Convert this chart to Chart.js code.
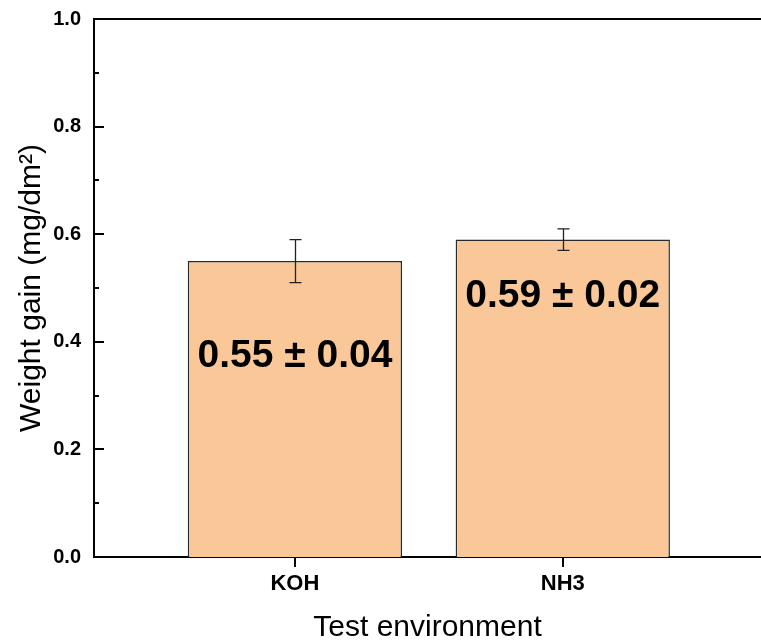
<!DOCTYPE html>
<html>
<head>
<meta charset="utf-8">
<script src="https://cdn.jsdelivr.net/npm/chart.js@4"></script>
<style>
  body { margin: 0; background: #fff; }
  #wrap { width: 761px; height: 641px; }
</style>
</head>
<body>
<div id="wrap"><canvas id="gainChart"></canvas></div>
<script>
const environments = ['KOH', 'NH3'];
const weightGain = [0.55, 0.59];
const gainError = [0.04, 0.02];
const gainLabels = ['0.55 \u00b1 0.04', '0.59 \u00b1 0.02'];

const FONT = "'Liberation Sans', Arial, sans-serif";
// where the value text sits, in y units
const labelAt = [0.373, 0.484];

const decorations = {
  id: 'decorations',
  afterDatasetsDraw(chart) {
    const { ctx, chartArea: a, scales: { x, y } } = chart;
    ctx.save();

    // error bars
    ctx.strokeStyle = '#222';
    ctx.lineWidth = 1.3;
    weightGain.forEach((v, i) => {
      const px = Math.round(x.getPixelForValue(i + 1)) + 0.5;
      const top = y.getPixelForValue(v + gainError[i]);
      const bot = y.getPixelForValue(v - gainError[i]);
      ctx.beginPath();
      ctx.moveTo(px, top); ctx.lineTo(px, bot);
      ctx.moveTo(px - 6, top); ctx.lineTo(px + 6, top);
      ctx.moveTo(px - 6, bot); ctx.lineTo(px + 6, bot);
      ctx.stroke();
    });

    // value text inside the bars
    ctx.fillStyle = '#000';
    ctx.font = 'bold 39px ' + FONT;
    ctx.textAlign = 'center';
    ctx.textBaseline = 'middle';
    gainLabels.forEach((t, i) => {
      ctx.fillText(t, x.getPixelForValue(i + 1), y.getPixelForValue(labelAt[i]));
    });

    // top frame line
    ctx.strokeStyle = '#000';
    ctx.lineWidth = 2;
    ctx.beginPath();
    ctx.moveTo(a.left - 1, a.top);
    ctx.lineTo(a.right, a.top);
    ctx.stroke();

    // y ticks point inward, minor ones shorter
    y.ticks.forEach(t => {
      const py = Math.round(y.getPixelForValue(t.value));
      const len = Math.round(t.value * 10) % 2 === 0 ? 10 : 5;
      ctx.beginPath();
      ctx.moveTo(a.left, py);
      ctx.lineTo(a.left + len, py);
      ctx.stroke();
    });

    // x ticks point outward
    x.ticks.forEach(t => {
      const px = Math.round(x.getPixelForValue(t.value));
      ctx.beginPath();
      ctx.moveTo(px, a.bottom);
      ctx.lineTo(px, a.bottom + 10);
      ctx.stroke();
    });
    ctx.restore();
  }
};

new Chart(document.getElementById('gainChart'), {
  type: 'bar',
  data: {
    datasets: [{
      data: environments.map((e, i) => ({ x: i + 1, y: weightGain[i] })),
      backgroundColor: '#FAC898',
      borderColor: '#2a2a2a',
      borderWidth: 1.5,
      barPercentage: 1,
      categoryPercentage: 0.8
    }]
  },
  options: {
    responsive: true,
    maintainAspectRatio: false,
    animation: false,
    layout: { padding: { top: 19, right: 0, left: 0, bottom: 0 } },
    plugins: { legend: { display: false }, tooltip: { enabled: false } },
    scales: {
      x: {
        type: 'linear',
        offset: false,
        min: 0.25,
        max: 2.74,
        afterBuildTicks: s => { s.ticks = environments.map((e, i) => ({ value: i + 1 })); },
        afterFit: s => { s.height = 84; },
        grid: { display: false, drawTicks: false, offset: false },
        border: { display: true, color: '#000', width: 2 },
        ticks: {
          padding: 14,
          color: '#000',
          font: { family: FONT, size: 22, weight: 'bold' },
          callback: v => environments[v - 1]
        },
        title: {
          display: true,
          text: 'Test environment',
          color: '#000',
          font: { family: FONT, size: 30, lineHeight: 0.9 },
          padding: 0
        }
      },
      y: {
        min: 0,
        max: 1,
        afterFit: s => { s.width = 94; s.paddingTop = 0; s.paddingBottom = 0; },
        grid: { display: false, drawTicks: false },
        border: { display: true, color: '#000', width: 2 },
        ticks: {
          stepSize: 0.1,
          padding: 13,
          color: '#000',
          font: { family: FONT, size: 20, weight: 'bold' },
          callback: v => (Math.round(v * 10) % 2 === 0 ? v.toFixed(1) : '')
        },
        title: {
          display: true,
          text: 'Weight gain (mg/dm\u00b2)',
          color: '#000',
          font: { family: FONT, size: 30, lineHeight: 0.9 },
          padding: { top: 18, bottom: 0 }
        }
      }
    }
  },
  plugins: [decorations]
});
</script>
</body>
</html>
